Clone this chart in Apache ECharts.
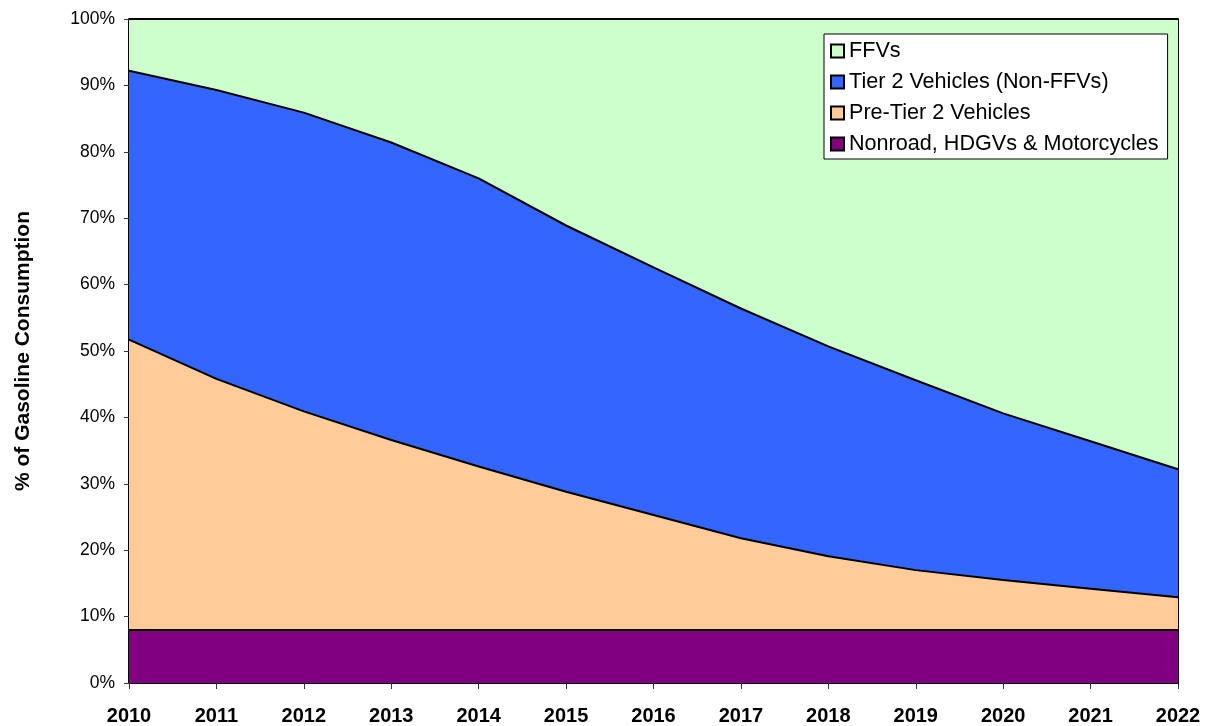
<!DOCTYPE html>
<html>
<head>
<meta charset="utf-8">
<script src="https://cdn.jsdelivr.net/npm/echarts@6/dist/echarts.min.js"></script>
<style>
  html, body { margin: 0; padding: 0; background: #fff; }
  #chart { width: 1205px; height: 726px; }
</style>
</head>
<body>
<div id="chart"></div>
<script>
// Share of gasoline consumption by vehicle group, percent (stacked)
const years = ['2010','2011','2012','2013','2014','2015','2016','2017','2018','2019','2020','2021','2022'];
const nonroad = [8, 8, 8, 8, 8, 8, 8, 8, 8, 8, 8, 8, 8];
const preTier2 = [43.7, 37.8, 32.9, 28.6, 24.6, 20.8, 17.3, 13.8, 11.1, 9.0, 7.5, 6.2, 4.9];
const tier2 = [40.5, 43.5, 45.0, 44.8, 43.4, 40.1, 37.3, 34.6, 31.6, 28.6, 25.1, 22.2, 19.3];
const ffvs = [7.8, 10.7, 14.1, 18.6, 24.0, 31.1, 37.4, 43.6, 49.3, 54.4, 59.4, 63.6, 67.8];

const FONT = "Arial, 'Liberation Sans', sans-serif";

function areaSeries(name, data, color, z) {
  return {
    name: name,
    type: 'line',
    stack: 'total',
    data: data,
    symbol: 'none',
    smooth: false,
    z: z,
    lineStyle: { color: '#000', width: 2 },
    itemStyle: { color: color, borderColor: '#000', borderWidth: 1 },
    areaStyle: { color: color, opacity: 1 },
    emphasis: { disabled: true }
  };
}

const chart = echarts.init(document.getElementById('chart'), null, { renderer: 'canvas' });
chart.setOption({
  animation: false,
  backgroundColor: '#fff',
  textStyle: { fontFamily: FONT },
  grid: { left: 129, right: 27, top: 19, bottom: 43, containLabel: false },
  legend: {
    orient: 'vertical',
    left: 824,
    top: 34,
    backgroundColor: '#fff',
    borderColor: '#000',
    borderWidth: 1,
    padding: [6, 9, 4, 6],
    itemWidth: 13,
    itemHeight: 13,
    itemGap: 9,
    icon: 'rect',
    data: ['FFVs', 'Tier 2 Vehicles (Non-FFVs)', 'Pre-Tier 2 Vehicles', 'Nonroad, HDGVs & Motorcycles'],
    textStyle: { fontFamily: FONT, fontSize: 21.6, color: '#000', lineHeight: 22 }
  },
  xAxis: {
    type: 'category',
    data: years,
    boundaryGap: false,
    axisLine: { lineStyle: { color: '#000', width: 2 } },
    axisTick: { show: true, length: 6, lineStyle: { color: '#333' } },
    axisLabel: { interval: 0, margin: 23, fontFamily: FONT, fontSize: 20, fontWeight: 'bold', color: '#000' },
    splitLine: { show: false }
  },
  yAxis: [{
    type: 'value',
    min: 0,
    max: 100,
    interval: 10,
    name: '% of Gasoline Consumption',
    nameLocation: 'middle',
    nameGap: 95,
    nameTextStyle: { fontFamily: FONT, fontSize: 21, fontWeight: 'bold', color: '#000' },
    axisLine: { show: true, lineStyle: { color: '#000', width: 2 } },
    axisTick: { show: true, length: 5, lineStyle: { color: '#333' } },
    axisLabel: { margin: 14, fontFamily: FONT, fontSize: 17.5, color: '#000', formatter: '{value}%' },
    splitLine: { show: false }
  }, {
    type: 'value',
    position: 'right',
    min: 0,
    max: 100,
    interval: 10,
    axisLine: { show: true, lineStyle: { color: '#000', width: 2 } },
    axisTick: { show: false },
    axisLabel: { show: false },
    splitLine: { show: false }
  }],
  series: [
    areaSeries('Nonroad, HDGVs & Motorcycles', nonroad, '#800080', 6),
    areaSeries('Pre-Tier 2 Vehicles', preTier2, '#FFCC99', 5),
    areaSeries('Tier 2 Vehicles (Non-FFVs)', tier2, '#3366FF', 4),
    areaSeries('FFVs', ffvs, '#CCFFCC', 3)
  ]
});
</script>
</body>
</html>
